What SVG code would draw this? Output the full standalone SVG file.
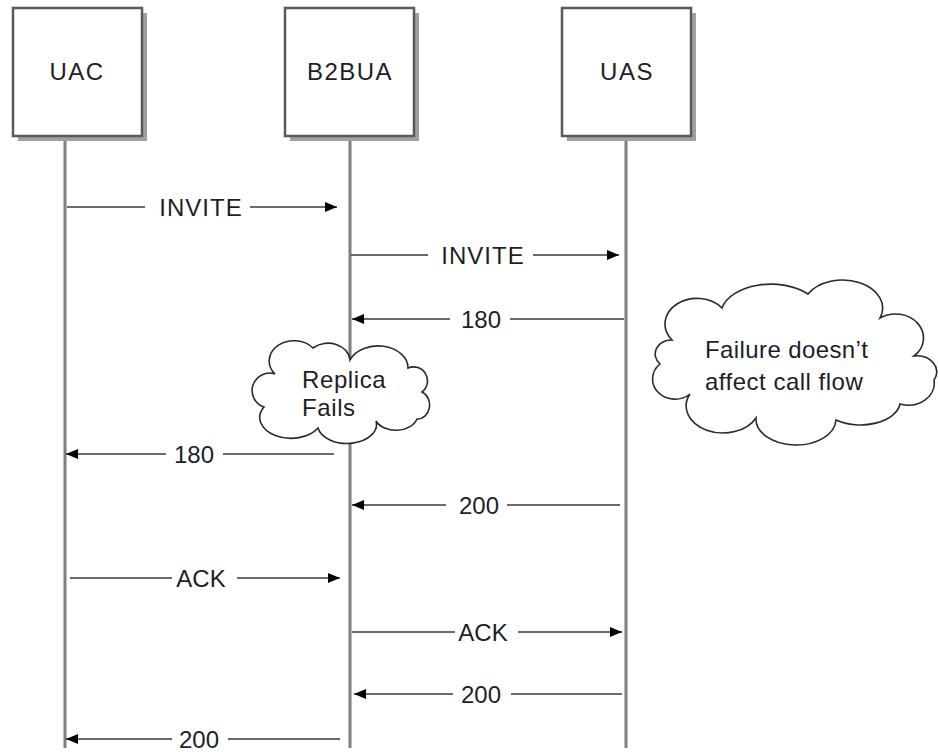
<svg xmlns="http://www.w3.org/2000/svg" width="938" height="752" viewBox="0 0 938 752">
<style>
.box{fill:#fff;stroke:#5a5a5a;stroke-width:2.5}
.shadow{fill:#a0a0a0}
.life{stroke:#7f7f7f;stroke-width:3;fill:none}
.msg{stroke:#3a3a3a;stroke-width:1.6;fill:none}
.lbl{font-family:"Liberation Sans",Arial,sans-serif;font-size:24px;fill:#1e1e28;text-anchor:middle}
.note{font-family:"Liberation Sans",Arial,sans-serif;font-size:24px;fill:#1e1e28}
.cloud{fill:#fff;stroke:#2a2a2a;stroke-width:1.6}
</style>
<defs>
<marker id="ah" viewBox="0 0 12 10" refX="12" refY="5" markerWidth="12" markerHeight="10" markerUnits="userSpaceOnUse" orient="auto">
<path d="M0,0 L12,5 L0,10 Z" fill="#000"/>
</marker>
</defs>
<rect width="938" height="752" fill="#fff"/>

<g id="lifelines">
<line class="life" x1="65" y1="137" x2="65" y2="748"/>
<line class="life" x1="350" y1="137" x2="350" y2="748"/>
<line class="life" x1="626" y1="137" x2="626" y2="748"/>
</g>

<g id="UAC">
<rect class="shadow" x="18" y="13" width="129" height="128"/>
<rect class="box" x="13" y="8" width="129" height="128"/>
<text class="lbl" x="77" y="80" letter-spacing="1.5">UAC</text>
</g>
<g id="B2BUA">
<rect class="shadow" x="290" y="13" width="129" height="128"/>
<rect class="box" x="285" y="8" width="129" height="128"/>
<text class="lbl" x="350" y="80" letter-spacing="1.5">B2BUA</text>
</g>
<g id="UAS">
<rect class="shadow" x="567" y="13" width="129" height="128"/>
<rect class="box" x="562" y="8" width="129" height="128"/>
<text class="lbl" x="627" y="80" letter-spacing="1.5">UAS</text>
</g>

<g id="connectors">
<line class="msg" x1="67" y1="207" x2="145" y2="207"/>
<line class="msg" x1="250" y1="207" x2="337" y2="207" marker-end="url(#ah)"/>
<text class="lbl" x="201" y="216" letter-spacing="1">INVITE</text>
<line class="msg" x1="351" y1="255" x2="428" y2="255"/>
<line class="msg" x1="533" y1="255" x2="619" y2="255" marker-end="url(#ah)"/>
<text class="lbl" x="483" y="264" letter-spacing="1">INVITE</text>
<line class="msg" x1="624" y1="319" x2="510" y2="319"/>
<line class="msg" x1="450" y1="319" x2="352" y2="319" marker-end="url(#ah)"/>
<text class="lbl" x="481" y="328">180</text>
<line class="msg" x1="334" y1="454" x2="223" y2="454"/>
<line class="msg" x1="166" y1="454" x2="66" y2="454" marker-end="url(#ah)"/>
<text class="lbl" x="194" y="463">180</text>
<line class="msg" x1="620" y1="505" x2="507" y2="505"/>
<line class="msg" x1="446" y1="505" x2="352" y2="505" marker-end="url(#ah)"/>
<text class="lbl" x="479" y="514">200</text>
<line class="msg" x1="70" y1="578" x2="172" y2="578"/>
<line class="msg" x1="237" y1="578" x2="340" y2="578" marker-end="url(#ah)"/>
<text class="lbl" x="201" y="587">ACK</text>
<line class="msg" x1="352" y1="632" x2="455" y2="632"/>
<line class="msg" x1="518" y1="632" x2="622" y2="632" marker-end="url(#ah)"/>
<text class="lbl" x="483" y="641">ACK</text>
<line class="msg" x1="622" y1="694" x2="511" y2="694"/>
<line class="msg" x1="453" y1="694" x2="354" y2="694" marker-end="url(#ah)"/>
<text class="lbl" x="481" y="703">200</text>
<line class="msg" x1="340" y1="739" x2="228" y2="739"/>
<line class="msg" x1="172" y1="739" x2="66" y2="739" marker-end="url(#ah)"/>
<text class="lbl" x="199" y="748">200</text>
</g>

<g id="replica-fails">
<path class="cloud" d="M275,374 A22,18 0 0 1 313,348 A22,18 0 0 1 350,360 A30,22 0 0 1 408,368 A14,14 0 0 1 422,392 A12,14 0 0 1 417,419 A22,16 0 0 1 376,421 A28,18 0 0 1 318,428 A24,16 0 0 1 264,407 A14,14 0 0 1 275,374 Z"/>
<text class="note" x="302" y="388" letter-spacing="0.6">Replica</text>
<text class="note" x="302" y="416" letter-spacing="0.6">Fails</text>
</g>

<g id="failure-note">
<path class="cloud" d="M672,340 A30,24 0 0 1 722,308 A50,30 0 0 1 808,294 A40,28 0 0 1 880,318 A28,24 0 0 1 914,356 A20,16 0 0 1 934,380 A26,22 0 0 1 900,404 A40,24 0 0 1 836,420 A40,26 0 0 1 756,418 A30,22 0 0 1 690,394 A20,18 0 0 1 660,364 A16,14 0 0 1 672,340 Z"/>
<text class="note" x="705" y="358" letter-spacing="0.4">Failure doesn’t</text>
<text class="note" x="705" y="390" letter-spacing="0.5">affect call flow</text>
</g>
</svg>
